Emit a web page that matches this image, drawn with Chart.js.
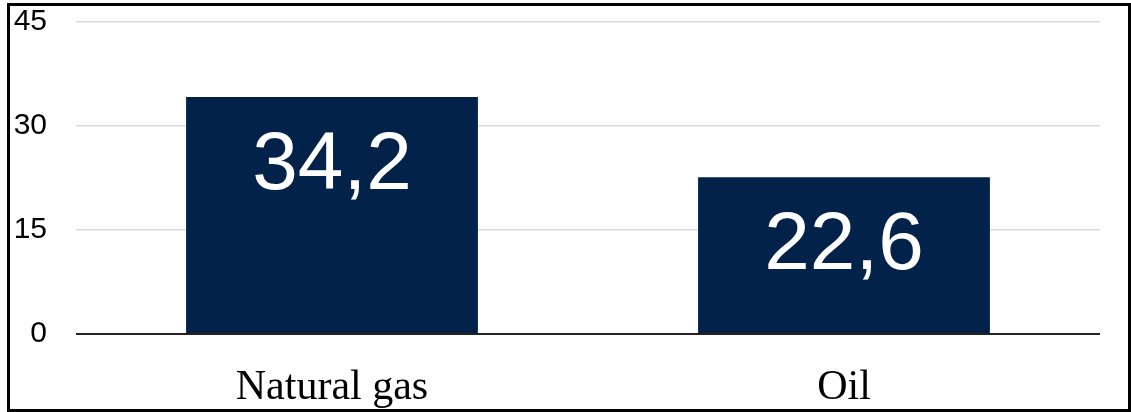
<!DOCTYPE html>
<html lang="en">
<head>
    <meta charset="UTF-8">
    <title>Natural gas vs Oil</title>
    <style>
        html, body {
            margin: 0;
            padding: 0;
            background: #fff;
        }
        #wrap {
            position: relative;
            width: 1131px;
            height: 412px;
        }
        #frame {
            position: absolute;
            left: 7px;
            top: 3px;
            width: 1124px;
            height: 409px;
            box-sizing: border-box;
            border: 3px solid #000;
            pointer-events: none;
        }
        canvas {
            position: absolute;
            left: 0;
            top: 0;
        }
    </style>
    <script src="https://cdn.jsdelivr.net/npm/chart.js"></script>
</head>
<body>
    <div id="wrap">
        <canvas id="chart" width="1131" height="412"></canvas>
        <div id="frame"></div>
    </div>

    <script>
        const categories = ["Natural gas", "Oil"];
        const values = [34.2, 22.6];
        const yTicks = [0, 15, 30, 45];

        const barColor = "#022249";

        // white value labels inside the bars, with a decimal comma
        const valueLabels = {
            id: "valueLabels",
            afterDatasetsDraw(chart) {
                const ctx = chart.ctx;
                const meta = chart.getDatasetMeta(0);
                ctx.save();
                ctx.fillStyle = "#ffffff";
                ctx.font = "82px 'Liberation Sans', Arial, sans-serif";
                ctx.textAlign = "center";
                ctx.textBaseline = "alphabetic";
                meta.data.forEach((bar, i) => {
                    const text = values[i].toFixed(1).replace(".", ",");
                    ctx.fillText(text, bar.x, bar.y + 92);
                });
                ctx.restore();
            }
        };

        new Chart(document.getElementById("chart"), {
            type: "bar",
            data: {
                labels: categories,
                datasets: [{
                    data: values,
                    backgroundColor: barColor,
                    borderWidth: 0,
                    barPercentage: 0.57,
                    categoryPercentage: 1
                }]
            },
            options: {
                responsive: false,
                animation: false,
                layout: {
                    padding: { left: 10, right: 31, top: 22, bottom: 0 }
                },
                plugins: {
                    legend: { display: false },
                    tooltip: { enabled: false }
                },
                scales: {
                    x: {
                        grid: { display: false },
                        border: { display: false },
                        ticks: {
                            color: "#000",
                            padding: 21,
                            font: { family: "'Liberation Serif', 'Times New Roman', serif", size: 42 }
                        },
                        afterFit(scale) { scale.height = 78; }
                    },
                    y: {
                        min: 0,
                        max: 45,
                        afterBuildTicks(scale) {
                            scale.ticks = yTicks.map(v => ({ value: v }));
                        },
                        grid: {
                            drawTicks: false,
                            color: ctx => ctx.tick && ctx.tick.value === 0 ? "#222" : "#dadada",
                            lineWidth: ctx => ctx.tick && ctx.tick.value === 0 ? 2 : 1.5
                        },
                        border: { display: false },
                        ticks: {
                            color: "#000",
                            padding: 29,
                            font: { family: "'Liberation Sans', Arial, sans-serif", size: 30 }
                        },
                        afterFit(scale) {
                            scale.width = 66;
                            scale.paddingTop = 0;
                            scale.paddingBottom = 0;
                        }
                    }
                }
            },
            plugins: [valueLabels]
        });
    </script>
</body>
</html>
